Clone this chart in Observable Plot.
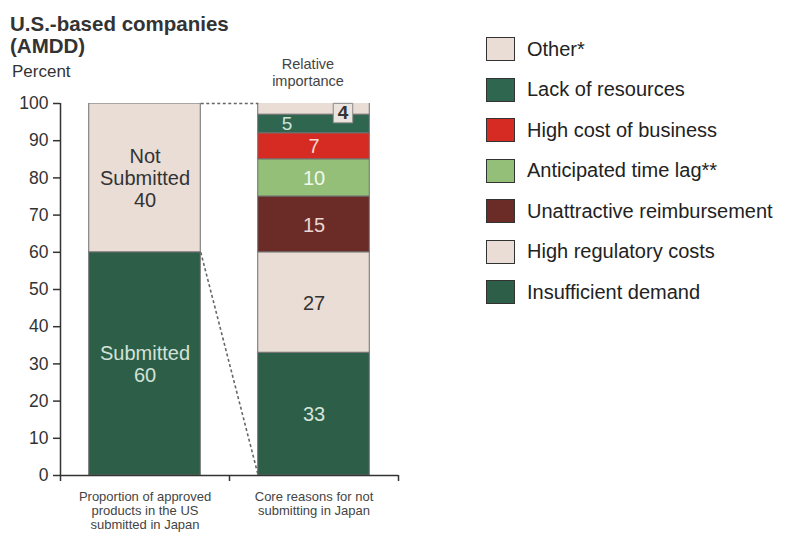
<!DOCTYPE html>
<html><head><meta charset="utf-8">
<script src="https://cdn.jsdelivr.net/npm/d3@7"></script>
<script src="https://cdn.jsdelivr.net/npm/@observablehq/plot@0.6"></script>
<style>
body{margin:0;background:#fff;font-family:"Liberation Sans",Arial,sans-serif;color:#2a2a2a}
#wrap{position:relative;width:788px;height:533px;overflow:hidden;background:#fff}
#title{position:absolute;left:10px;top:13px;font-weight:bold;font-size:20.5px;line-height:22px;color:#333}
#unit{position:absolute;left:12px;top:62px;font-size:17px;line-height:20px;color:#333}
#rel{position:absolute;left:248px;top:56px;width:120px;text-align:center;font-size:14.5px;line-height:17px;color:#444}
#chart{position:absolute;left:0;top:90px}
#legend{position:absolute;left:486px;top:29px}
.row{display:flex;align-items:center;height:40.5px}
.sw{width:29px;height:24px;border:1.5px solid #333;box-sizing:border-box;margin-right:12px}
.lab{font-size:20px;color:#222}
</style></head>
<body><div id="wrap">
<div id="title">U.S.-based companies<br>(AMDD)</div>
<div id="unit">Percent</div>
<div id="rel">Relative<br>importance</div>
<div id="chart"></div>
<div id="legend"></div>
</div>
<script>
// ---- data ----
const groups = ["Proportion of approved\nproducts in the US\nsubmitted in Japan", "Core reasons for not\nsubmitting in Japan"];
const submissionLabels = ["Submitted", "Not\nSubmitted"];
const submissionValues = [60, 40];
const reasonLabels = ["Insufficient demand", "High regulatory costs", "Unattractive reimbursement", "Anticipated time lag**", "High cost of business", "Lack of resources", "Other*"];
const reasonValues = [33, 27, 15, 10, 7, 5, 4];
const yTicks = [0, 10, 20, 30, 40, 50, 60, 70, 80, 90, 100];

// ---- styles ----
const submissionFill = ["#2d5f48", "#e9ddd6"];
const submissionText = ["#d3e2d8", "#333333"];
const reasonFill = ["#2d5f48", "#e9ddd6", "#6b2b27", "#93bf78", "#d52b23", "#2e6650", "#e9ddd6"];
const reasonText = ["#d6e4da", "#333333", "#ecd6d2", "#f2f7ec", "#f8d8d2", "#cfe3d8", "#333333"];

// ---- build rows ----
const pad = 0.17;
function stack(labels, values, fills, texts, g, showValue) {
  const ends = d3.cumsum(values);
  return labels.map((l, i) => ({
    g, label: l, value: values[i], y1: ends[i] - values[i], y2: ends[i],
    fill: fills[i], tfill: texts[i],
    text: showValue === "full" ? `${l}\n${values[i]}` : `${values[i]}`
  }));
}
const left = stack(submissionLabels, submissionValues, submissionFill, submissionText, 0, "full");
const right = stack(reasonLabels, reasonValues, reasonFill, reasonText, 1, "value");
const rows = left.concat(right);
const total = d3.sum(submissionValues);
const connectors = [
  {x1: 1 - pad, y1: total, x2: 1 + pad, y2: total},
  {x1: 1 - pad, y1: submissionValues[0], x2: 1 + pad, y2: 0}
];
const mainLabels = rows.filter(d => d.label !== "Other*" && d.label !== "Lack of resources");
const otherRow = right.filter(d => d.label === "Other*");
const lackRow = right.filter(d => d.label === "Lack of resources");
const mid = d => (d.y1 + Math.min(d.y2, 100)) / 2;

const plot = Plot.plot({
  width: 420, height: 443,
  marginLeft: 60, marginRight: 22, marginTop: 13, marginBottom: 58,
  style: {fontFamily: "'Liberation Sans', Arial, sans-serif", fontSize: "17px", color: "#333", background: "transparent"},
  x: {type: "linear", domain: [0, 2], axis: null},
  y: {domain: [0, 100], axis: null},
  marks: [
    Plot.rect(rows, {x1: d => d.g + pad, x2: d => d.g + 1 - pad, y1: "y1", y2: "y2", fill: d => d.fill, stroke: "#6f6f6f", strokeWidth: 1, clip: true}),
    Plot.link(connectors, {x1: "x1", y1: "y1", x2: "x2", y2: "y2", stroke: "#666", strokeWidth: 1.6, strokeDasharray: "3,2.5"}),
    Plot.text(mainLabels, {x: d => d.g + 0.5, y: mid, text: "text", fill: d => d.tfill, fontSize: 20, lineHeight: 1.12}),
    Plot.text(lackRow, {x: d => d.g + 0.5, y: mid, text: "text", fill: d => d.tfill, fontSize: 19, dx: -27}),
    Plot.dot(otherRow, {x: d => d.g + 0.5, y: mid, symbol: "square", r: 11, fill: "#ebe3dd", stroke: "#8a8a8a", strokeWidth: 1, dx: 29, dy: 4}),
    Plot.text(otherRow, {x: d => d.g + 0.5, y: mid, text: "text", fill: d => d.tfill, fontSize: 19, fontWeight: "bold", dx: 29, dy: 4}),
    Plot.ruleX([0], {y1: 0, y2: 100, stroke: "#333", strokeWidth: 1.5}),
    Plot.ruleY([0], {x1: 0, x2: 2, stroke: "#333", strokeWidth: 1.5}),
    Plot.axisY(yTicks, {tickSize: 7, tickPadding: 5, fontSize: 17.5, stroke: "#333", strokeWidth: 1.5, fill: "#333", label: null}),
    Plot.axisX([0, 1, 2], {tickSize: 6, tickFormat: () => "", stroke: "#333", strokeWidth: 1.5, label: null}),
    Plot.text(groups, {x: (d, i) => i + 0.5, y: () => 0, text: d => d, lineAnchor: "top", dy: 15, fontSize: 13, lineHeight: 1.1, fill: "#444"})
  ]
});
document.getElementById("chart").appendChild(plot);

// ---- legend ----
const legend = document.getElementById("legend");
reasonLabels.map((l, i) => i).reverse().forEach(i => {
  const row = document.createElement("div");
  row.className = "row";
  row.innerHTML = `<div class="sw" style="background:${reasonFill[i]}"></div><div class="lab">${reasonLabels[i]}</div>`;
  legend.appendChild(row);
});
</script>
</body></html>
